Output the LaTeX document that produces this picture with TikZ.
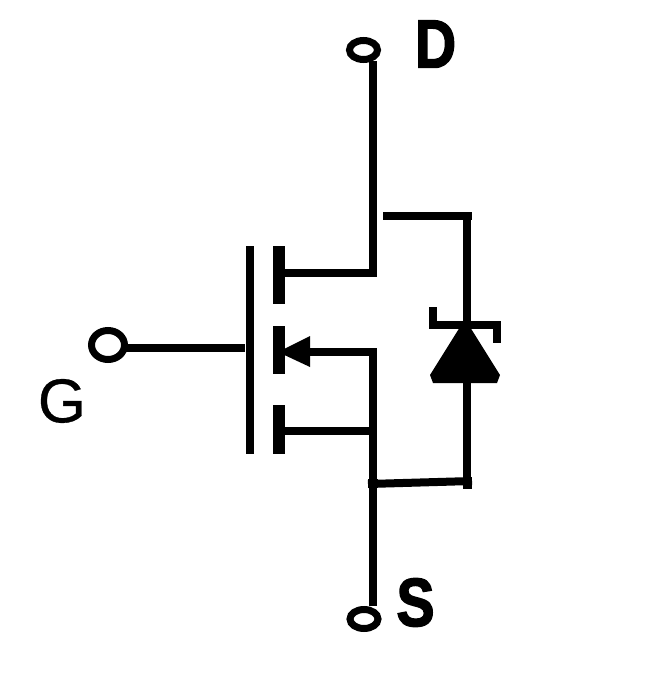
\documentclass[tikz,border=0pt]{standalone}
\usepackage{fontspec}
\setmainfont{Liberation Sans}
\newfontfamily\heavyfont[FakeBold=2.4]{Liberation Sans Bold}
\newfontfamily\gfont[FakeBold=0.5]{Liberation Sans}
\usetikzlibrary{shapes.geometric}
\tikzset{
  wire/.style={line width=8pt,line cap=butt,draw=black},
  plate/.style={line width=12pt,line cap=butt,draw=black},
  terminal/.style={ellipse,draw=black,line width=7pt,fill=white,inner sep=0pt,outer sep=0pt},
  solid shape/.style={fill=black,draw=none},
  boldlabel/.style={inner sep=0pt,font=\fontsize{68}{68}\heavyfont,xscale=.84},
  thinlabel/.style={inner sep=0pt,font=\fontsize{62}{62}\gfont}
}
\begin{document}
\begin{tikzpicture}[x=1pt,y=-1pt]
\useasboundingbox (0,0) rectangle (655,681);
\fill[white] (0,0) rectangle (655,681);
% terminals
\node[terminal,minimum width=28pt,minimum height=19pt] (dterm) at (363.5,50) {};
\node[terminal,minimum width=28pt,minimum height=19pt] (sterm) at (364,619) {};
\node[terminal,minimum width=33pt,minimum height=29pt] (gterm) at (108,345) {};
% labels
\node[boldlabel] (dlabel) at (435.5,44) {D};
\node[boldlabel] (slabel) at (415.5,602.5) {S};
\node[thinlabel] (glabel) at (62,401) {G};
% coordinates
\coordinate (dtop) at (373,61);
\coordinate (dknee) at (373,277);
\coordinate (dfoot) at (285,273);
\coordinate (djoin) at (377,273);
\coordinate (mfoot) at (305,352);
\coordinate (mknee) at (377,352);
\coordinate (stop) at (373,348);
\coordinate (sbot) at (373,606);
\coordinate (lfoot) at (285,431);
\coordinate (ljoin) at (373,431);
\coordinate (gend) at (245,348);
\coordinate (gstart) at (125,348);
\coordinate (gptop) at (250,246);
\coordinate (gpbot) at (250,454);
\coordinate (p1t) at (279,246);
\coordinate (p1b) at (279,304);
\coordinate (p2t) at (279,326);
\coordinate (p2b) at (279,374);
\coordinate (p3t) at (279,405);
\coordinate (p3b) at (279,454);
\coordinate (btl) at (383,216);
\coordinate (btr) at (472,216);
\coordinate (brtop) at (467,216);
\coordinate (brbot) at (467,489);
\coordinate (bll) at (368,484);
\coordinate (blr) at (472,481);
% gate
\draw[wire] (gstart) -- (gend);
\draw[wire] (gptop) -- (gpbot);
% channel plates
\draw[plate] (p1t) -- (p1b);
\draw[plate] (p2t) -- (p2b);
\draw[plate] (p3t) -- (p3b);
% drain and source
\draw[wire] (dtop) -- (dknee);
\draw[wire] (dfoot) -- (djoin);
\draw[wire] (mfoot) -- (mknee);
\draw[wire] (stop) -- (sbot);
\draw[wire] (lfoot) -- (ljoin);
% arrow on body
\fill[solid shape] (278,352) -- (310,336) -- (310,367) -- cycle;
% body diode path
\draw[wire] (btl) -- (btr);
\draw[wire] (brtop) -- (brbot);
\draw[wire] (bll) -- (blr);
\fill[black] (368,479) rectangle (378,488);
\fill[black] (463,477) rectangle (472,489);
% zener diode
\fill[solid shape] (465,319) -- (500,375) -- (497,383) -- (433,383) -- (430,375) -- cycle;
\draw[wire] (433,325) -- (501,325);
\draw[wire] (433,307) -- (433,329);
\draw[wire] (497,321) -- (497,343);
\end{tikzpicture}
\end{document}
